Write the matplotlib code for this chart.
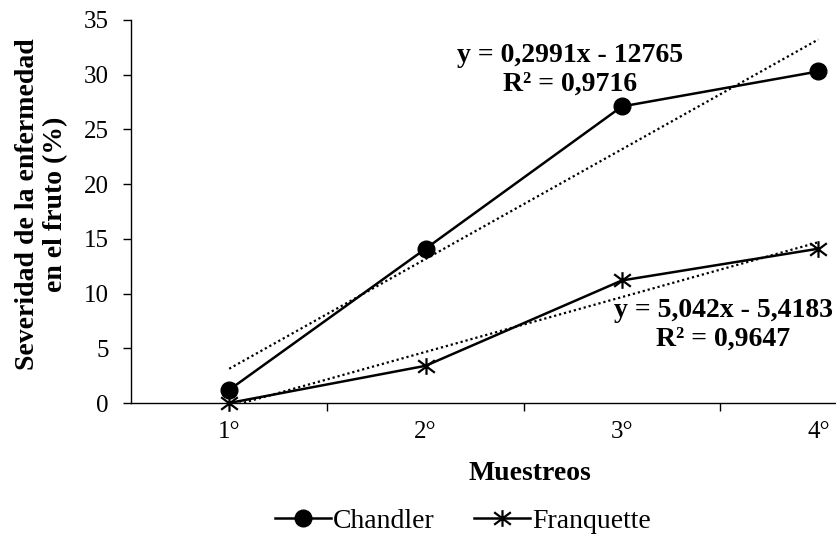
import numpy as np
import matplotlib
matplotlib.use("Agg")
import matplotlib.pyplot as plt
from matplotlib.path import Path

# datos
muestreos = ["1°", "2°", "3°", "4°"]
chandler = [1.2, 14.1, 27.1, 30.3]
franquette = [0.0, 3.4, 11.2, 14.1]
eq_chandler = "y = 0,2991x - 12765\nR² = 0,9716"
eq_franquette = "y = 5,042x - 5,4183\nR² = 0,9647"

plt.rcParams['font.family'] = ['Liberation Serif', 'DejaVu Serif']

W, H = 836, 534

# marcador asterisco tipo excel
asterisco = Path([(0, -1), (0, 1), (-1, -0.75), (1, 0.75), (-1, 0.75), (1, -0.75)],
                 [Path.MOVETO, Path.LINETO, Path.MOVETO, Path.LINETO, Path.MOVETO, Path.LINETO])

fig = plt.figure(figsize=(W / 100, H / 100), dpi=100)
ax = fig.add_axes([131 / W, (H - 403) / H, 1 - 131 / W, (403 - 20) / H])

x = np.arange(1, len(muestreos) + 1)
ax.plot(x, chandler, "k-", marker="o", markersize=12, lw=1.8, label="Chandler", clip_on=False)
ax.plot(x, franquette, "k-", marker=asterisco, markersize=12, mew=1.6, lw=1.8,
        label="Franquette", clip_on=False)

# lineas de tendencia
for serie in (chandler, franquette):
    m, p = np.polyfit(x, serie, 1)
    ax.plot(x, m * x + p, color="k", ls=(0, (1, 1.3)), lw=1.6)

ax.text(570 / W, 1 - 70 / H, eq_chandler, transform=fig.transFigure, ha="center", va="center",
        fontsize=20, fontweight="bold", linespacing=1.2)
ax.text(723 / W, 1 - 325 / H, eq_franquette, transform=fig.transFigure, ha="center", va="center",
        fontsize=20, fontweight="bold", linespacing=1.2)

ax.set_xlim(0.5, 4.09)
ax.set_ylim(0, 35)
ax.set_yticks(range(0, 36, 5))
ax.set_xticks(x)
ax.set_xticklabels(muestreos)
ax.set_xticks(np.arange(1.5, 4.0, 1), minor=True)
ax.tick_params(axis="x", which="major", length=0, pad=13, labelsize=18)
ax.tick_params(axis="x", which="minor", length=6, width=1, direction="out")
ax.tick_params(axis="y", length=6, width=1, labelsize=18, pad=10)

for s in ("top", "right"):
    ax.spines[s].set_visible(False)
for s in ("left", "bottom"):
    ax.spines[s].set_linewidth(1)

ax.set_xlabel("Muestreos", fontsize=20, fontweight="bold")
ax.xaxis.set_label_coords((530 - 131) / (W - 131), -(473 - 403) / (403 - 20))
ax.xaxis.label.set_va("center")
ax.set_ylabel("Severidad de la enfermedad\nen el fruto (%)", fontsize=20,
              fontweight="bold", linespacing=1.15)
ax.yaxis.set_label_coords(-(131 - 68) / (W - 131), 0.52)

ax.legend(loc="center", bbox_to_anchor=(463 / W, 1 - 521 / H), bbox_transform=fig.transFigure,
          ncol=2, frameon=False, fontsize=20, handlelength=2.0, handletextpad=0.1,
          columnspacing=1.4, borderpad=0.2)

fig.savefig("out.png", dpi=100)
